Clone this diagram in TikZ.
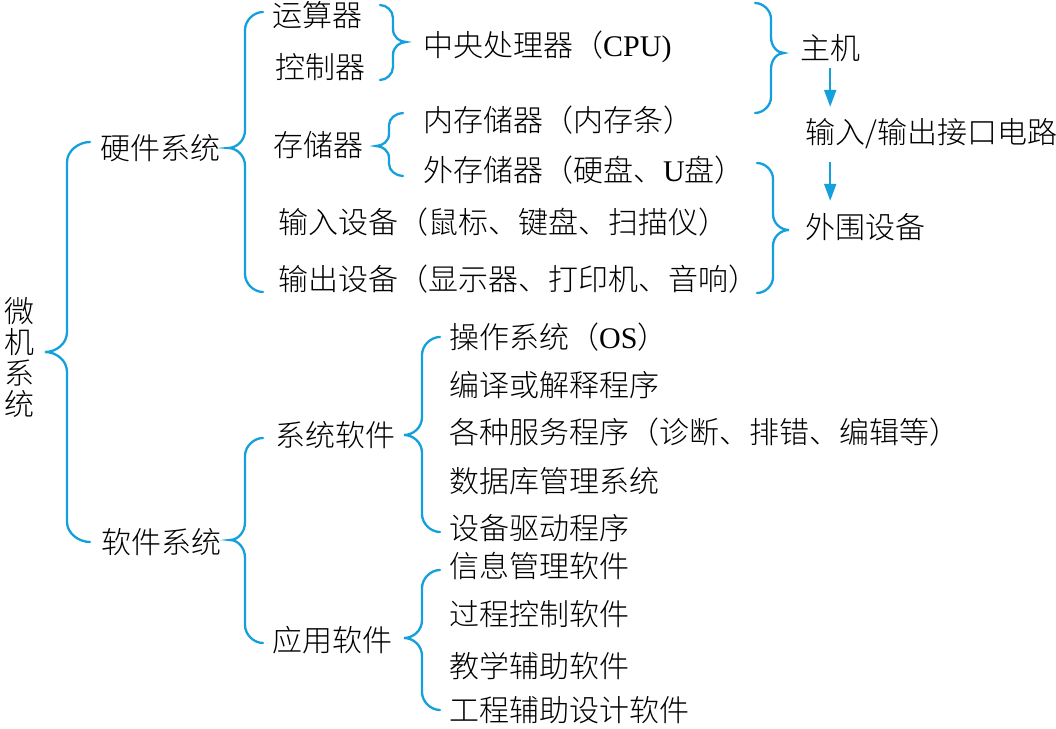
\documentclass[tikz,border=0pt]{standalone}
\usepackage{fontspec}
\usetikzlibrary{arrows.meta}
\newfontfamily\cjk{Noto Sans CJK SC}[UprightFont=* Light]
\newfontfamily\lat{Liberation Serif}
\definecolor{brc}{RGB}{20,160,220}
\newcommand\mybrace[7]{%
  \draw[br] (#1,#4) .. controls ({(#1+#2)/2},#4) and (#2,{#4+0.45*#7}) .. (#2,{#4+#7})
    -- (#2,{#5-#7}) .. controls (#2,{#5-0.4*#7}) and ({(#2+#3)/2},#5) .. (#3,#5)
    .. controls ({(#2+#3)/2},#5) and (#2,{#5+0.4*#7}) .. (#2,{#5+#7})
    -- (#2,{#6-#7}) .. controls (#2,{#6-0.45*#7}) and ({(#1+#2)/2},#6) .. (#1,#6);}
\begin{document}
\begin{tikzpicture}[x=1pt,y=-1pt,
  br/.style={draw=brc,line width=2.3pt,line cap=round},
  lbl/.style={font=\cjk\fontsize{30}{31}\selectfont,inner sep=0pt,anchor=base west,
    text height=22pt,text depth=6pt},
  arr/.style={draw=brc,line width=2pt,-{Triangle[length=17pt,width=12pt]}}]
\fill[white] (0,0) rectangle (1056,728);
\useasboundingbox (0,0) rectangle (1056,728);

% root
\node[font=\cjk\fontsize{30}{31}\selectfont,align=center,inner sep=0pt] (root) at (20,357)
  {微\\机\\系\\统};

% level 1
\node[lbl] (hw) at (100,159) {硬件系统};
\node[lbl] (sw) at (101,553) {软件系统};

% hardware
\node[lbl] (ysq) at (272,27) {运算器};
\node[lbl] (kzq) at (275,78) {控制器};
\node[lbl] (cpu) at (423,56) {中央处理器（{\lat CPU)}};
\node[lbl] (ccq) at (273,156) {存储器};
\node[lbl] (nc) at (423,131) {内存储器（内存条）};
\node[lbl] (wc) at (423,181) {外存储器（硬盘、{\lat U}盘）};
\node[lbl] (srsb) at (278,233) {输入设备（鼠标、键盘、扫描仪）};
\node[lbl] (scsb) at (278,290) {输出设备（显示器、打印机、音响）};
\node[lbl] (zj) at (800,59) {主机};
\node[lbl] (io) at (805,143) {输入/输出接口电路};
\node[lbl] (ww) at (805,238) {外围设备};

% software
\node[lbl] (xtrj) at (275,446) {系统软件};
\node[lbl] (yyrj) at (272,651) {应用软件};
\node[lbl] (s1) at (449,348) {操作系统（{\lat OS}）};
\node[lbl] (s2) at (449,396) {编译或解释程序};
\node[lbl] (s3) at (449,443) {各种服务程序（诊断、排错、编辑等）};
\node[lbl] (s4) at (449,492) {数据库管理系统};
\node[lbl] (s5) at (449,539) {设备驱动程序};
\node[lbl] (a1) at (449,577) {信息管理软件};
\node[lbl] (a2) at (449,625) {过程控制软件};
\node[lbl] (a3) at (449,677) {教学辅助软件};
\node[lbl] (a4) at (449,721) {工程辅助设计软件};

% braces  {xe}{xs}{xt}{yt}{ym}{yb}{r}
\mybrace{90}{67}{45}{142}{352}{542}{20}
\mybrace{263}{245}{228}{12}{148}{292}{18}
\mybrace{403}{389}{376}{113}{146}{176}{12}
\mybrace{263}{245}{230}{438}{540}{643}{18}
\mybrace{440}{422}{404}{337}{435}{532}{18}
\mybrace{440}{422}{404}{570}{638}{710}{18}
\mybrace{380}{393}{406}{5}{42}{80}{13}
\mybrace{755}{771}{784}{3}{53}{113}{16}
\mybrace{757}{773}{789}{163}{230}{293}{16}

% arrows
\draw[arr,shorten <=3pt,shorten >=14pt] (zj.south) -- (zj.south |- io.north);
\draw[arr,shorten <=13pt,shorten >=15pt] (zj.south |- io.south) -- (zj.south |- ww.north);
\end{tikzpicture}
\end{document}
